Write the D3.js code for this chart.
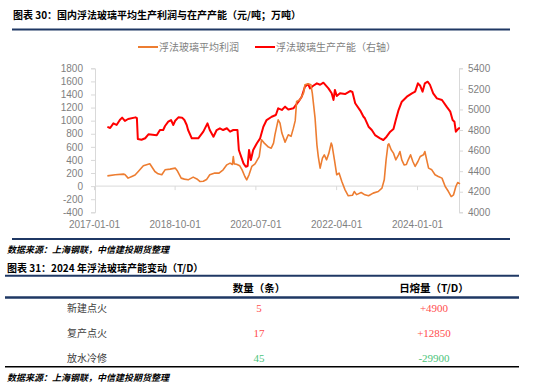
<!DOCTYPE html>
<html>
<head>
<meta charset="utf-8">
<script src="https://cdn.jsdelivr.net/npm/d3@7"></script>
<style>
	body { margin: 0; background: #fff; }
	svg { display: block; }
	text { font-family: "Liberation Sans", Arial, "Noto Sans CJK SC", sans-serif; }
	.cjk { font-family: "Noto Sans CJK SC", sans-serif; }
	.serif { font-family: "Liberation Serif", "Noto Sans CJK SC", serif; }
</style>
</head>
<body>
<div id="chart"></div>
<script>
'use strict';

// x values are decimal years
var profitYears = [2017.29, 2017.46, 2017.64, 2017.67, 2017.74, 2017.82, 2017.89, 2017.96, 2018.07, 2018.14,
	2018.21, 2018.32, 2018.39, 2018.47, 2018.54, 2018.65, 2018.76, 2018.81, 2018.89, 2018.96,
	2019.04, 2019.15, 2019.23, 2019.30, 2019.37, 2019.44, 2019.51, 2019.62, 2019.71, 2019.80,
	2019.88, 2019.95, 2020.00, 2020.02, 2020.04, 2020.09, 2020.16, 2020.21, 2020.27, 2020.31,
	2020.36, 2020.42, 2020.49, 2020.58, 2020.63, 2020.69, 2020.78, 2020.84, 2020.89, 2020.92,
	2020.99, 2021.03, 2021.07, 2021.14, 2021.21, 2021.27, 2021.32, 2021.36, 2021.39, 2021.46,
	2021.54, 2021.57, 2021.64, 2021.70, 2021.73, 2021.79, 2021.83, 2021.86, 2021.90, 2021.95,
	2021.99, 2022.04, 2022.09, 2022.14, 2022.16, 2022.21, 2022.26, 2022.31, 2022.37, 2022.44,
	2022.51, 2022.60, 2022.64, 2022.69, 2022.79, 2022.87, 2022.95, 2023.05, 2023.16, 2023.24,
	2023.29, 2023.33, 2023.37, 2023.39, 2023.44, 2023.49, 2023.54, 2023.60, 2023.63, 2023.67,
	2023.72, 2023.77, 2023.81, 2023.86, 2023.91, 2023.96, 2024.02, 2024.07, 2024.14, 2024.17,
	2024.21, 2024.25, 2024.32, 2024.39, 2024.46, 2024.54, 2024.61, 2024.68, 2024.74, 2024.79,
	2024.84, 2024.88, 2024.93];
var profitValues = [157, 173, 183, 178, 122, 147, 170, 223, 310, 325,
	341, 223, 188, 173, 249, 260, 275, 230, 122, 107,
	96, 137, 110, 70, 75, 100, 173, 199, 199, 249,
	325, 351, 330, 452, 340, 335, 310, 249, 147, 96,
	173, 300, 341, 452, 707, 657, 596, 580, 657, 784,
	1013, 963, 810, 672, 784, 760, 886, 1000, 1293, 1319,
	1421, 1548, 1563, 1548, 1421, 1039, 631, 452, 275, 428,
	478, 402, 504, 657, 620, 402, 173, 199, 70, -57,
	-148, -140, -83, -130, -98, -133, -148, -107, -82, -31,
	96, 402, 631, 646, 555, 504, 402, 478, 529, 402,
	325, 330, 402, 478, 376, 300, 376, 452, 478, 529,
	402, 275, 249, 173, 147, 122, -6, -83, -159, -133,
	-6, 55, 35];

var capacityYears = [2017.29, 2017.35, 2017.42, 2017.49, 2017.56, 2017.61, 2017.67, 2017.74, 2017.90, 2017.93,
	2017.95, 2018.03, 2018.11, 2018.18, 2018.36, 2018.43, 2018.50, 2018.54, 2018.61, 2018.67,
	2018.72, 2018.76, 2018.83, 2018.91, 2018.96, 2019.01, 2019.04, 2019.12, 2019.26, 2019.37,
	2019.46, 2019.51, 2019.59, 2019.66, 2019.73, 2019.80, 2019.88, 2019.95, 2020.02, 2020.11,
	2020.14, 2020.24, 2020.29, 2020.33, 2020.36, 2020.40, 2020.45, 2020.53, 2020.60, 2020.67,
	2020.74, 2020.85, 2020.94, 2020.99, 2021.07, 2021.14, 2021.21, 2021.32, 2021.43, 2021.50,
	2021.57, 2021.64, 2021.68, 2021.75, 2021.83, 2021.90, 2021.97, 2022.08, 2022.15, 2022.19,
	2022.22, 2022.26, 2022.33, 2022.44, 2022.55, 2022.60, 2022.66, 2022.77, 2022.84, 2022.87,
	2022.95, 2023.02, 2023.09, 2023.20, 2023.27, 2023.34, 2023.42, 2023.49, 2023.54, 2023.60,
	2023.67, 2023.78, 2023.89, 2023.96, 2024.02, 2024.07, 2024.12, 2024.17, 2024.23, 2024.28,
	2024.35, 2024.43, 2024.54, 2024.64, 2024.72, 2024.77, 2024.81, 2024.84, 2024.90, 2024.93];
var capacityValues = [4830, 4820, 4865, 4849, 4897, 4920, 4888, 4907, 4923, 4915,
	4712, 4705, 4720, 4758, 4749, 4800, 4800, 4839, 4881, 4897,
	4849, 4890, 4923, 4920, 4897, 4849, 4800, 4719, 4719, 4784,
	4865, 4800, 4735, 4800, 4817, 4800, 4817, 4784, 4800, 4800,
	4606, 4476, 4443, 4450, 4606, 4508, 4606, 4671, 4719, 4832,
	4897, 4929, 4946, 5011, 4995, 5027, 5000, 5011, 5075, 5124,
	5221, 5247, 5205, 5230, 5254, 5240, 5260, 5205, 5157, 5092,
	5190, 5130, 5157, 5150, 5179, 5170, 5060, 4989, 4929, 4914,
	4832, 4800, 4751, 4719, 4703, 4735, 4784, 4810, 4897, 4994,
	5075, 5124, 5157, 5173, 5254, 5230, 5173, 5254, 5270, 5240,
	5157, 5108, 5092, 5027, 4978, 4897, 4880, 4784, 4817, 4817];

var xTickLabels = ["2017-01-01", "2018-10-01", "2020-07-01", "2022-04-01", "2024-01-01"];
var leftTicks = [-400, -200, 0, 200, 400, 600, 800, 1000, 1200, 1400, 1600, 1800];
var rightTicks = [4000, 4200, 4400, 4600, 4800, 5000, 5200, 5400];
var seriesNames = ["浮法玻璃平均利润", "浮法玻璃生产产能（右轴）"];

var tableHead = ["数量（条）", "日熔量（T/D）"];
var tableRows = ["新建点火", "复产点火", "放水冷修"];
var tableCounts = ["5", "17", "45"];
var tableMelt = ["+4900", "+12850", "-29900"];

var WIDTH = 550;
var HEIGHT = 387;
var PLOT_LEFT = 95;
var PLOT_RIGHT = 459;
var PLOT_TOP = 68.3;
var PLOT_BOTTOM = 212.3;

var ORANGE = "#ed7d31";
var RED = "#ff0000";
var NAVY = "#1f3864";
var AXIS_GREY = "#d9d9d9";
var LABEL_GREY = "#7f7f7f";

function fromDecimalYear(v) {
	var y = Math.floor(v);
	var a = Date.UTC(y, 0, 1);
	var b = Date.UTC(y + 1, 0, 1);
	return new Date(a + (v - y) * (b - a));
}

var parseDay = d3.utcParse("%Y-%m-%d");

var svg = d3.select("#chart").append("svg")
	.attr("width", WIDTH)
	.attr("height", HEIGHT);

svg.append("rect")
	.attr("width", WIDTH)
	.attr("height", HEIGHT)
	.style("fill", "#fff");

// ---- header of chart 30
svg.append("text")
	.classed("cjk", 1)
	.attr("x", 13)
	.attr("y", 19)
	.style("font-size", "10px")
	.style("font-weight", "bold")
	.style("fill", "#000")
	.text("图表 30：国内浮法玻璃平均生产利润与在产产能（元/吨；万吨）");

svg.append("line")
	.attr("x1", 12).attr("x2", 510)
	.attr("y1", 29.5).attr("y2", 29.5)
	.style("stroke", NAVY)
	.style("stroke-width", 2);

// legend
var legendItems = [
	{ name: seriesNames[0], color: ORANGE, x: 138 },
	{ name: seriesNames[1], color: RED, x: 255 }
];
var legend = svg.selectAll(".legend-item")
	.data(legendItems)
	.enter().append("g")
	.classed("legend-item", 1)
	.attr("transform", function (d) { return "translate(" + d.x + ",47)"; });

legend.append("line")
	.attr("x1", 0).attr("x2", 20)
	.attr("y1", 0).attr("y2", 0)
	.style("stroke", function (d) { return d.color; })
	.style("stroke-width", 2);

legend.append("text")
	.classed("cjk", 1)
	.attr("x", 21)
	.attr("y", 3.5)
	.style("font-size", "10px")
	.style("fill", LABEL_GREY)
	.text(function (d) { return d.name; });

// ---- scales
var x = d3.scaleUtc()
	.domain([parseDay(xTickLabels[0]), parseDay(xTickLabels[4])])
	.range([94, 417]);

var yLeft = d3.scaleLinear()
	.domain([-400, 1800])
	.range([PLOT_BOTTOM, PLOT_TOP]);

var yRight = d3.scaleLinear()
	.domain([4000, 5400])
	.range([PLOT_BOTTOM, PLOT_TOP]);

var plainNumber = function (d) { return String(d); };

// left axis
var leftAxis = svg.append("g")
	.attr("transform", "translate(" + PLOT_LEFT + ",0)")
	.call(d3.axisLeft(yLeft).tickValues(leftTicks).tickFormat(plainNumber).tickSize(4).tickPadding(8));
// right axis
var rightAxis = svg.append("g")
	.attr("transform", "translate(" + PLOT_RIGHT + ",0)")
	.call(d3.axisRight(yRight).tickValues(rightTicks).tickFormat(plainNumber).tickSize(4).tickPadding(5));

[leftAxis, rightAxis].forEach(function (g) {
	g.select(".domain").style("stroke", AXIS_GREY);
	g.selectAll(".tick line").style("stroke", AXIS_GREY);
	g.selectAll(".tick text")
		.style("font-family", "'Liberation Sans', Arial, sans-serif")
		.style("font-size", "10px")
		.style("fill", LABEL_GREY);
});

// zero line with date ticks
svg.append("line")
	.attr("x1", PLOT_LEFT).attr("x2", PLOT_RIGHT)
	.attr("y1", yLeft(0)).attr("y2", yLeft(0))
	.style("stroke", AXIS_GREY)
	.style("stroke-width", 1);

var xAxis = svg.append("g")
	.attr("transform", "translate(0," + yLeft(0) + ")")
	.call(d3.axisBottom(x)
		.tickValues(xTickLabels.map(parseDay))
		.tickFormat(d3.utcFormat("%Y-%m-%d"))
		.tickSize(4));
xAxis.select(".domain").remove();
xAxis.selectAll(".tick line").style("stroke", AXIS_GREY);
xAxis.selectAll(".tick text")
	.attr("y", PLOT_BOTTOM + 16 - yLeft(0))
	.attr("dy", 0)
	.style("font-family", "'Liberation Sans', Arial, sans-serif")
	.style("font-size", "10px")
	.style("fill", LABEL_GREY);

// ---- series
var capacityLine = d3.line()
	.x(function (d, i) { return x(fromDecimalYear(capacityYears[i])); })
	.y(function (d) { return yRight(d); });

var profitLine = d3.line()
	.x(function (d, i) { return x(fromDecimalYear(profitYears[i])); })
	.y(function (d) { return yLeft(d); });

svg.append("path")
	.datum(capacityValues)
	.attr("d", capacityLine)
	.style("fill", "none")
	.style("stroke", RED)
	.style("stroke-width", 2)
	.style("stroke-linejoin", "round");

svg.append("path")
	.datum(profitValues)
	.attr("d", profitLine)
	.style("fill", "none")
	.style("stroke", ORANGE)
	.style("stroke-width", 1.6)
	.style("stroke-linejoin", "round");

svg.append("line")
	.attr("x1", 12).attr("x2", 510)
	.attr("y1", 239).attr("y2", 239)
	.style("stroke", NAVY)
	.style("stroke-width", 2);

// ---- sources and table 31
function sourceNote(y) {
	svg.append("text")
		.classed("cjk", 1)
		.attr("x", 7)
		.attr("y", y)
		.style("font-size", "9px")
		.style("font-weight", "bold")
		.style("font-style", "italic")
		.style("fill", "#000")
		.text("数据来源：上海钢联，中信建投期货整理");
}
sourceNote(252.5);

svg.append("text")
	.classed("cjk", 1)
	.attr("x", 7)
	.attr("y", 271.5)
	.style("font-size", "10px")
	.style("font-weight", "bold")
	.style("fill", "#000")
	.text("图表 31：2024 年浮法玻璃产能变动（T/D）");

svg.append("line")
	.attr("x1", 5).attr("x2", 519)
	.attr("y1", 275.7).attr("y2", 275.7)
	.style("stroke", NAVY)
	.style("stroke-width", 2);

var colX = [259, 434];

svg.selectAll(".table-head")
	.data(tableHead)
	.enter().append("text")
	.classed("table-head cjk", 1)
	.attr("x", function (d, i) { return colX[i]; })
	.attr("y", 291.5)
	.attr("text-anchor", "middle")
	.style("font-size", "10.5px")
	.style("font-weight", "bold")
	.style("fill", "#000")
	.text(function (d) { return d; });

svg.append("line")
	.attr("x1", 5).attr("x2", 519)
	.attr("y1", 297.5).attr("y2", 297.5)
	.style("stroke", NAVY)
	.style("stroke-width", 2.5);

var rowY = d3.scalePoint()
	.domain(tableRows)
	.range([308.3, 358.3]);

var rows = svg.selectAll(".table-row")
	.data(tableRows)
	.enter().append("g")
	.classed("table-row", 1)
	.attr("transform", function (d) { return "translate(0," + rowY(d) + ")"; });

rows.append("text")
	.classed("cjk", 1)
	.attr("x", 67)
	.attr("y", 4)
	.style("font-size", "10px")
	.style("fill", "#404040")
	.text(function (d) { return d; });

rows.append("text")
	.classed("serif", 1)
	.attr("x", colX[0])
	.attr("y", 4)
	.attr("text-anchor", "middle")
	.style("font-size", "11px")
	.style("fill", function (d, i) { return i < 2 ? "#ff4d4d" : "#4cc47a"; })
	.text(function (d, i) { return tableCounts[i]; });

rows.append("text")
	.classed("serif", 1)
	.attr("x", colX[1])
	.attr("y", 4)
	.attr("text-anchor", "middle")
	.style("font-size", "11px")
	.style("fill", function (d, i) { return i < 2 ? "#ff4d4d" : "#4cc47a"; })
	.text(function (d, i) { return tableMelt[i]; });

svg.append("line")
	.attr("x1", 5).attr("x2", 519)
	.attr("y1", 366.8).attr("y2", 366.8)
	.style("stroke", "#000")
	.style("stroke-width", 1.5);

sourceNote(380.5);
</script>
</body>
</html>
